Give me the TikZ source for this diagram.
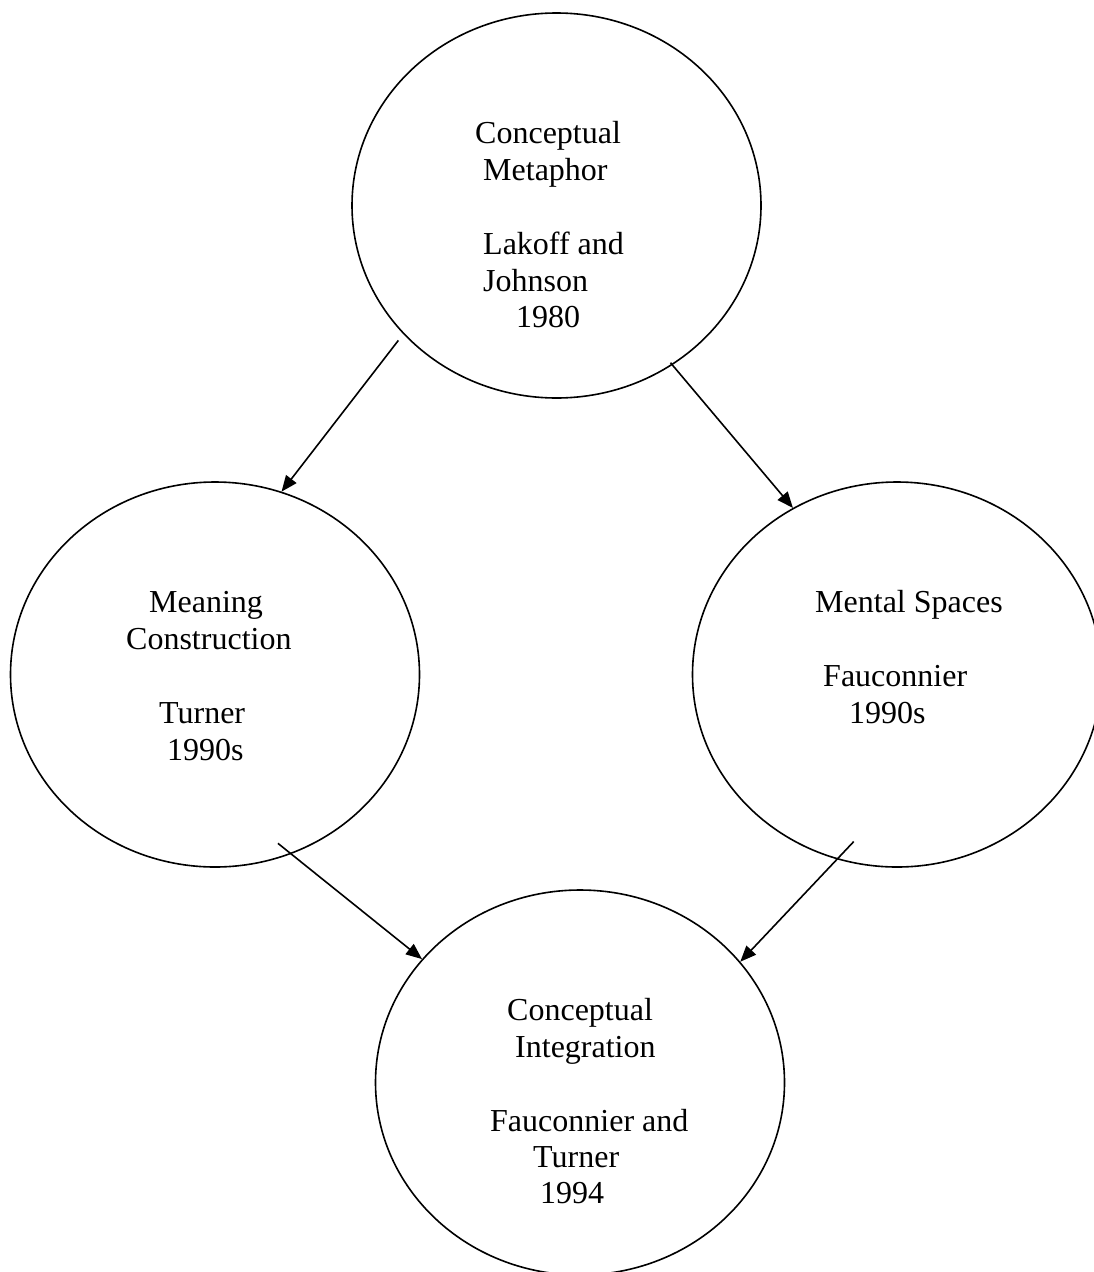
\documentclass[tikz,border=0pt]{standalone}
\usepackage{fontspec}
\setmainfont{Liberation Serif}
\usetikzlibrary{shapes.geometric,arrows.meta}
\begin{document}
\begin{tikzpicture}[x=1pt,y=-1pt,
  oval/.style={draw,ellipse,line width=1.6pt,minimum width=409pt,minimum height=385pt,inner sep=0pt},
  txt/.style={anchor=base west,inner sep=0pt,font=\fontsize{32}{36.7}\selectfont},
  link/.style={line width=1.6pt,-{Triangle[length=16pt,width=13pt]}}]
\useasboundingbox (0,0) rectangle (1094,1272);
\clip (0,0) rectangle (1094,1272);

% the four theories
\node[oval] (cm) at (556.5,205.5) {};
\node[oval] (mc) at (215,674.5) {};
\node[oval] (ms) at (897,674.5) {};
\node[oval] (ci) at (580,1082.5) {};

% Conceptual Metaphor
\node[txt] (cm1) at (475,143) {Conceptual};
\node[txt] (cm2) at (483,180) {Metaphor};
\node[txt] (cm3) at (483,254) {Lakoff and};
\node[txt] (cm4) at (483,291) {Johnson};
\node[txt] (cm5) at (516,327) {1980};

% Meaning Construction
\node[txt] (mc1) at (149,612) {Meaning};
\node[txt] (mc2) at (126,649) {Construction};
\node[txt] (mc3) at (159,723) {Turner};
\node[txt] (mc4) at (167,760) {1990s};

% Mental Spaces
\node[txt] (ms1) at (815,612) {Mental Spaces};
\node[txt] (ms2) at (823,686) {Fauconnier};
\node[txt] (ms3) at (849,723) {1990s};

% Conceptual Integration
\node[txt] (ci1) at (507,1020) {Conceptual};
\node[txt] (ci2) at (515,1057) {Integration};
\node[txt] (ci3) at (490,1131) {Fauconnier and};
\node[txt] (ci4) at (533,1167) {Turner};
\node[txt] (ci5) at (540,1203) {1994};

% lines of influence
\draw[link, shorten <=8pt] (cm.220.8) -- (mc.70);
\draw[link, shorten <=-3pt] (cm.306.4) -- (ms.122);
\draw[link, shorten <=-17pt] (mc.293.4) -- (ci.142);
\draw[link, shorten <=-24.5pt] (ms.252.7) -- (ci.37.7);
\end{tikzpicture}
\end{document}
